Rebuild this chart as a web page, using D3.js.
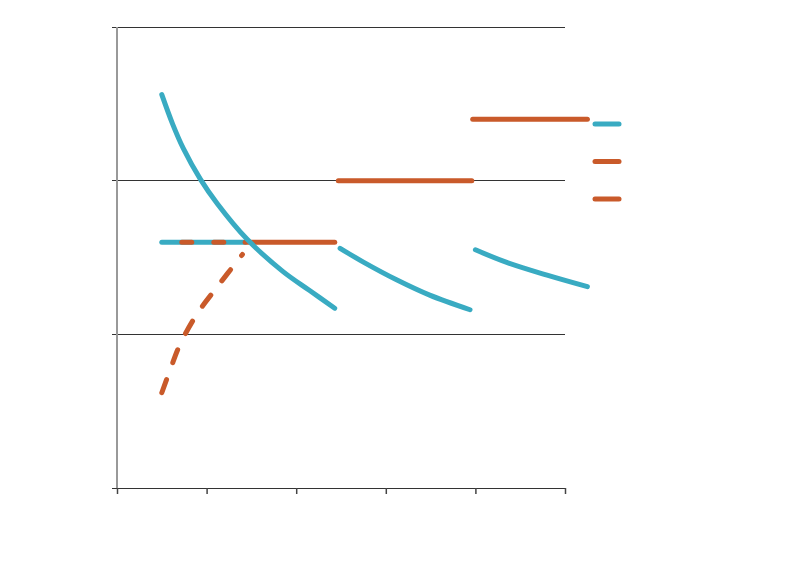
<!DOCTYPE html>
<html><head><meta charset="utf-8">
<script src="https://cdn.jsdelivr.net/npm/d3@7"></script>
<style>body{margin:0;background:#fff;}svg{display:block;font-family:"Liberation Sans",Arial,sans-serif;}</style>
</head><body><svg id="c" width="800" height="565"></svg>
<script>
// ---- data ----
const xTicks = [0, 1, 2, 3, 4, 5];
const yTicks = [0, 1, 2, 3];
// demand curves (teal)
const demand1 = [[0.50,2.56],[0.62,2.37],[0.74,2.21],[0.93,2.01],[1.12,1.85],[1.45,1.62],[1.85,1.41],[2.15,1.285],[2.43,1.17]];
const demand2 = [[2.49,1.56],[2.75,1.47],[3.12,1.355],[3.49,1.255],[3.94,1.16]];
const demand3 = [[4.00,1.55],[4.35,1.468],[4.80,1.385],[5.25,1.31]];
const priceFlatTeal = [[0.50,1.60],[1.43,1.60]];
// price lines (orange)
const price1 = [[1.43,1.60],[2.43,1.60]];
const price2 = [[2.47,2.00],[3.96,2.00]];
const price3 = [[3.97,2.40],[5.25,2.40]];
const priceDashFlat = [[0.50,1.60],[1.43,1.60]];
const supplyDashed = [[0.50,0.62],[0.60,0.78],[0.70,0.93],[0.89,1.13],[1.12,1.31],[1.40,1.52]];
const legendKeys = ["demand", "price", "supply"];

// ---- drawing ----
const teal = "#39abc2", orange = "#c95a2a";
const svg = d3.select("#c");
const x = d3.scaleLinear().domain([0,5]).range([117,565]);
const y = d3.scaleLinear().domain([0,3]).range([488,27]);

// gridlines
svg.append("g").selectAll("line").data(yTicks.filter(d=>d>0)).join("line")
  .attr("x1",112).attr("x2",565).attr("y1",d=>y(d)).attr("y2",d=>y(d))
  .attr("stroke","#333").attr("stroke-width",1).attr("shape-rendering","crispEdges");
// left axis line
svg.append("line").attr("x1",x(0)).attr("x2",x(0)).attr("y1",y(3)).attr("y2",y(0))
  .attr("stroke","#999").attr("stroke-width",2).attr("shape-rendering","crispEdges");
// bottom axis
const xAxis = d3.axisBottom(x).tickValues(xTicks).tickSize(6).tickFormat("").tickSizeOuter(0);
const gx = svg.append("g").attr("transform",`translate(0,${y(0)})`).call(xAxis);
gx.select(".domain").attr("d",`M112,0.5H565`).attr("stroke","#333");
gx.selectAll(".tick line").attr("stroke","#444").attr("stroke-width",1.5);

const line = d3.line().x(d=>x(d[0])).y(d=>y(d[1])).curve(d3.curveCatmullRom.alpha(0.5));
const lineStraight = d3.line().x(d=>x(d[0])).y(d=>y(d[1]));
function draw(data, color, gen, dash, offset){
  const p = svg.append("path").attr("d",gen(data)).attr("fill","none")
    .attr("stroke",color).attr("stroke-width",5).attr("stroke-linecap","round").attr("stroke-linejoin","round");
  if(dash) p.attr("stroke-dasharray",dash).attr("stroke-dashoffset",offset||0);
  return p;
}
draw(priceFlatTeal, teal, lineStraight);
draw(priceDashFlat, orange, lineStraight, "10,22", -20);
draw(price1, orange, lineStraight);
draw(price2, orange, lineStraight);
draw(price3, orange, lineStraight);
draw(supplyDashed, orange, line, "14,18", 0);
draw(demand1, teal, line);
draw(demand2, teal, line);
draw(demand3, teal, line);

// legend
const legendColors = [teal, orange, orange];
svg.append("g").selectAll("line").data(legendKeys).join("line")
  .attr("x1",595).attr("x2",619)
  .attr("y1",(d,i)=>124+i*37.5).attr("y2",(d,i)=>124+i*37.5)
  .attr("stroke",(d,i)=>legendColors[i]).attr("stroke-width",5).attr("stroke-linecap","round");
</script></body></html>
